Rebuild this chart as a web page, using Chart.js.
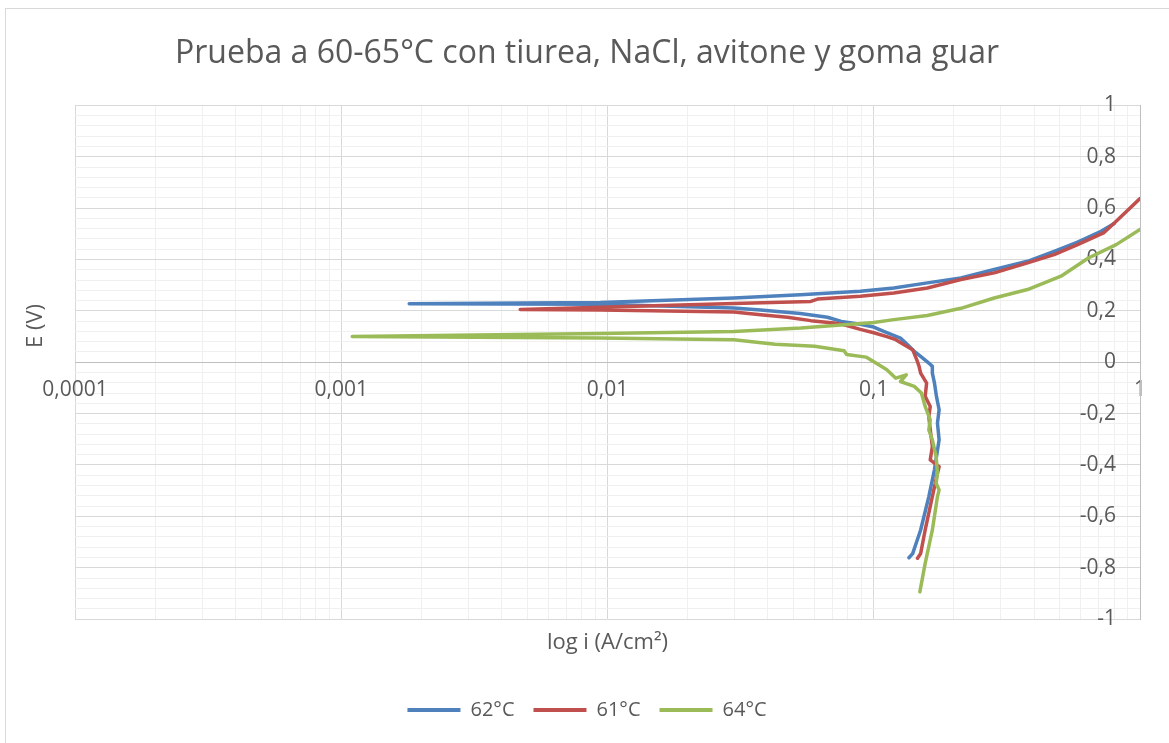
<!DOCTYPE html>
<html>
<head>
<meta charset="utf-8">
<script src="https://cdn.jsdelivr.net/npm/chart.js@4.4.1/dist/chart.umd.min.js"></script>
<style>
  body { margin: 0; background: #fff; }
  #frame { position: absolute; left: 5px; top: 8px; width: 1200px; height: 800px; border: 1px solid #d9d9d9; }
  #chart { position: absolute; left: 0; top: 0; }
</style>
</head>
<body>
<div id="frame"></div>
<canvas id="chart" width="1169" height="743"></canvas>
<script>
// log i (A/cm2) and E (V), in scan order
const current62 = [0.1355, 0.140, 0.150, 0.161, 0.169, 0.176, 0.1735, 0.176, 0.172, 0.169, 0.166, 0.166, 0.161, 0.150, 0.142, 0.134, 0.126, 0.109, 0.100, 0.089, 0.0755, 0.067, 0.053, 0.0376, 0.0298, 0.0094, 0.0018, 0.0094, 0.0298, 0.053, 0.089, 0.119, 0.159, 0.2125, 0.2835, 0.378, 0.476, 0.583, 0.714, 0.80];
const potential62 = [-0.761, -0.745, -0.653, -0.523, -0.419, -0.302, -0.237, -0.185, -0.133, -0.080, -0.042, -0.016, -0.003, 0.023, 0.042, 0.068, 0.094, 0.120, 0.137, 0.148, 0.159, 0.175, 0.190, 0.203, 0.211, 0.226, 0.228, 0.233, 0.250, 0.263, 0.276, 0.289, 0.309, 0.328, 0.361, 0.393, 0.432, 0.468, 0.510, 0.540];

const current61 = [0.146, 0.150, 0.156, 0.166, 0.1735, 0.176, 0.163, 0.166, 0.163, 0.161, 0.163, 0.156, 0.158, 0.150, 0.148, 0.145, 0.140, 0.130, 0.121, 0.112, 0.100, 0.089, 0.0774, 0.0709, 0.058, 0.0474, 0.0376, 0.0298, 0.0094, 0.0047, 0.0094, 0.0298, 0.058, 0.0615, 0.089, 0.119, 0.159, 0.2125, 0.2835, 0.378, 0.476, 0.583, 0.733, 0.814, 1.0];
const potential61 = [-0.763, -0.745, -0.653, -0.523, -0.432, -0.406, -0.380, -0.328, -0.263, -0.211, -0.172, -0.133, -0.081, -0.042, -0.016, 0.010, 0.049, 0.068, 0.088, 0.100, 0.115, 0.128, 0.146, 0.153, 0.162, 0.175, 0.185, 0.196, 0.203, 0.205, 0.214, 0.229, 0.237, 0.246, 0.257, 0.270, 0.289, 0.322, 0.348, 0.387, 0.419, 0.458, 0.505, 0.549, 0.637];

const current64 = [0.149, 0.156, 0.166, 0.1735, 0.176, 0.1715, 0.1735, 0.1715, 0.166, 0.161, 0.163, 0.156, 0.151, 0.142, 0.126, 0.1325, 0.121, 0.112, 0.103, 0.0935, 0.0791, 0.0774, 0.060, 0.0426, 0.0298, 0.0094, 0.0011, 0.0094, 0.0298, 0.0532, 0.0774, 0.100, 0.119, 0.159, 0.2125, 0.2835, 0.378, 0.505, 0.64, 0.814, 1.0];
const potential64 = [-0.894, -0.783, -0.653, -0.523, -0.497, -0.471, -0.432, -0.367, -0.302, -0.263, -0.224, -0.172, -0.120, -0.094, -0.075, -0.049, -0.062, -0.029, -0.006, 0.020, 0.030, 0.045, 0.062, 0.070, 0.088, 0.094, 0.100, 0.112, 0.120, 0.133, 0.146, 0.155, 0.166, 0.182, 0.210, 0.250, 0.283, 0.335, 0.406, 0.458, 0.517];

const seriesNames = ['62°C', '61°C', '64°C'];
const seriesColors = ['#4f81bd', '#c0504d', '#9bbb59'];

const xDecades = [0.0001, 0.001, 0.01, 0.1, 1];
const yMajorStep = 0.2;
const yMinorStep = 0.04;

const xGridValues = [];
for (const d of xDecades) {
  for (let m = 1; m < 10; m++) {
    const v = +(m * d).toPrecision(6);
    if (v <= 1) xGridValues.push(v);
  }
}
const yGridValues = [];
for (let k = -25; k <= 25; k++) yGridValues.push(Math.round(k * yMinorStep * 100) / 100);

const isDecade = v => xDecades.some(d => Math.abs(v - d) < d * 1e-6);
const isYMajor = v => Math.abs(v / yMajorStep - Math.round(v / yMajorStep)) < 1e-6;

const toPoints = (xs, ys) => xs.map((x, k) => ({x, y: ys[k]}));

Chart.defaults.font.family = "'Open Sans', sans-serif";
Chart.defaults.color = '#595959';

// the E (V) title sits above the middle of the plot in the original
const sideTitle = {
  id: 'sideTitle',
  afterDraw(chart) {
    const ctx = chart.ctx;
    ctx.save();
    ctx.translate(36, 326);
    ctx.rotate(-Math.PI / 2);
    ctx.font = "22px 'Open Sans', sans-serif";
    ctx.fillStyle = '#595959';
    ctx.textAlign = 'center';
    ctx.textBaseline = 'middle';
    ctx.fillText('E (V)', 0, 0);
    ctx.restore();
  }
};

const allSeries = [[current62, potential62], [current61, potential61], [current64, potential64]];

new Chart(document.getElementById('chart'), {
  type: 'scatter',
  data: {
    datasets: allSeries.map((s, k) => ({
      label: seriesNames[k],
      data: toPoints(s[0], s[1]),
      xAxisID: 'x',
      yAxisID: 'y',
      showLine: true,
      borderColor: seriesColors[k],
      backgroundColor: seriesColors[k],
      borderWidth: 3.5,
      pointRadius: 0,
      borderCapStyle: 'round',
      borderJoinStyle: 'round',
      order: 2 - k
    }))
  },
  options: {
    responsive: false,
    animation: false,
    layout: { padding: { left: 5, right: 0, top: 0, bottom: 13 } },
    plugins: {
      tooltip: { enabled: false },
      title: {
        display: true,
        text: 'Prueba a 60-65°C con tiurea, NaCl, avitone y goma guar',
        font: { size: 32, weight: 'normal' },
        color: '#595959',
        padding: { top: 35, bottom: 32 }
      },
      legend: {
        position: 'bottom',
        labels: {
          boxWidth: 53,
          boxHeight: 4,
          padding: 19,
          font: { size: 20 },
          color: '#595959',
          sort: (a, b) => a.datasetIndex - b.datasetIndex,
          generateLabels: chart => Chart.defaults.plugins.legend.labels.generateLabels(chart)
            .map(l => ({ ...l, lineWidth: 0, fillStyle: l.strokeStyle }))
        }
      }
    },
    scales: {
      x: {
        type: 'logarithmic',
        min: 0.0001,
        max: 1,
        position: 'bottom',
        afterBuildTicks: s => { s.ticks = xGridValues.map(v => ({ value: v })); },
        ticks: { display: false },
        grid: {
          color: c => (c.tick && isDecade(c.tick.value)) ? '#d9d9d9' : '#f0f0f0',
          drawTicks: false
        },
        border: { display: false },
        title: {
          display: true,
          text: 'log i (A/cm²)',
          font: { size: 22 },
          color: '#595959',
          padding: { top: 10, bottom: 25.5 }
        }
      },
      xLabels: {
        type: 'logarithmic',
        axis: 'x',
        min: 0.0001,
        max: 1,
        position: { y: 0 },
        afterBuildTicks: s => { s.ticks = xDecades.map(v => ({ value: v })); },
        ticks: {
          autoSkip: false,
          maxRotation: 0,
          padding: 15,
          font: { size: 21 },
          color: '#595959',
          callback: v => String(v).replace('.', ',')
        },
        grid: { drawOnChartArea: false, drawTicks: false },
        border: { color: '#bfbfbf', width: 1 }
      },
      y: {
        type: 'linear',
        min: -1,
        max: 1,
        position: 'right',
        afterBuildTicks: s => { s.ticks = yGridValues.map(v => ({ value: v })); },
        afterFit: s => { s.width = 29; },
        ticks: {
          mirror: true,
          padding: -24,
          autoSkip: false,
          font: { size: 21 },
          color: '#595959',
          callback: v => isYMajor(v) ? String(Math.round(v * 10) / 10).replace('.', ',') : ''
        },
        grid: {
          color: c => (c.tick && isYMajor(c.tick.value)) ? '#d9d9d9' : '#f0f0f0',
          drawTicks: false
        },
        border: { color: '#bfbfbf', width: 1 }
      },
      leftSpace: {
        type: 'linear',
        axis: 'y',
        position: 'left',
        afterFit: s => { s.width = 70; },
        ticks: { display: false },
        grid: { display: false, drawTicks: false },
        border: { display: false }
      }
    }
  },
  plugins: [sideTitle]
});
</script>
</body>
</html>
